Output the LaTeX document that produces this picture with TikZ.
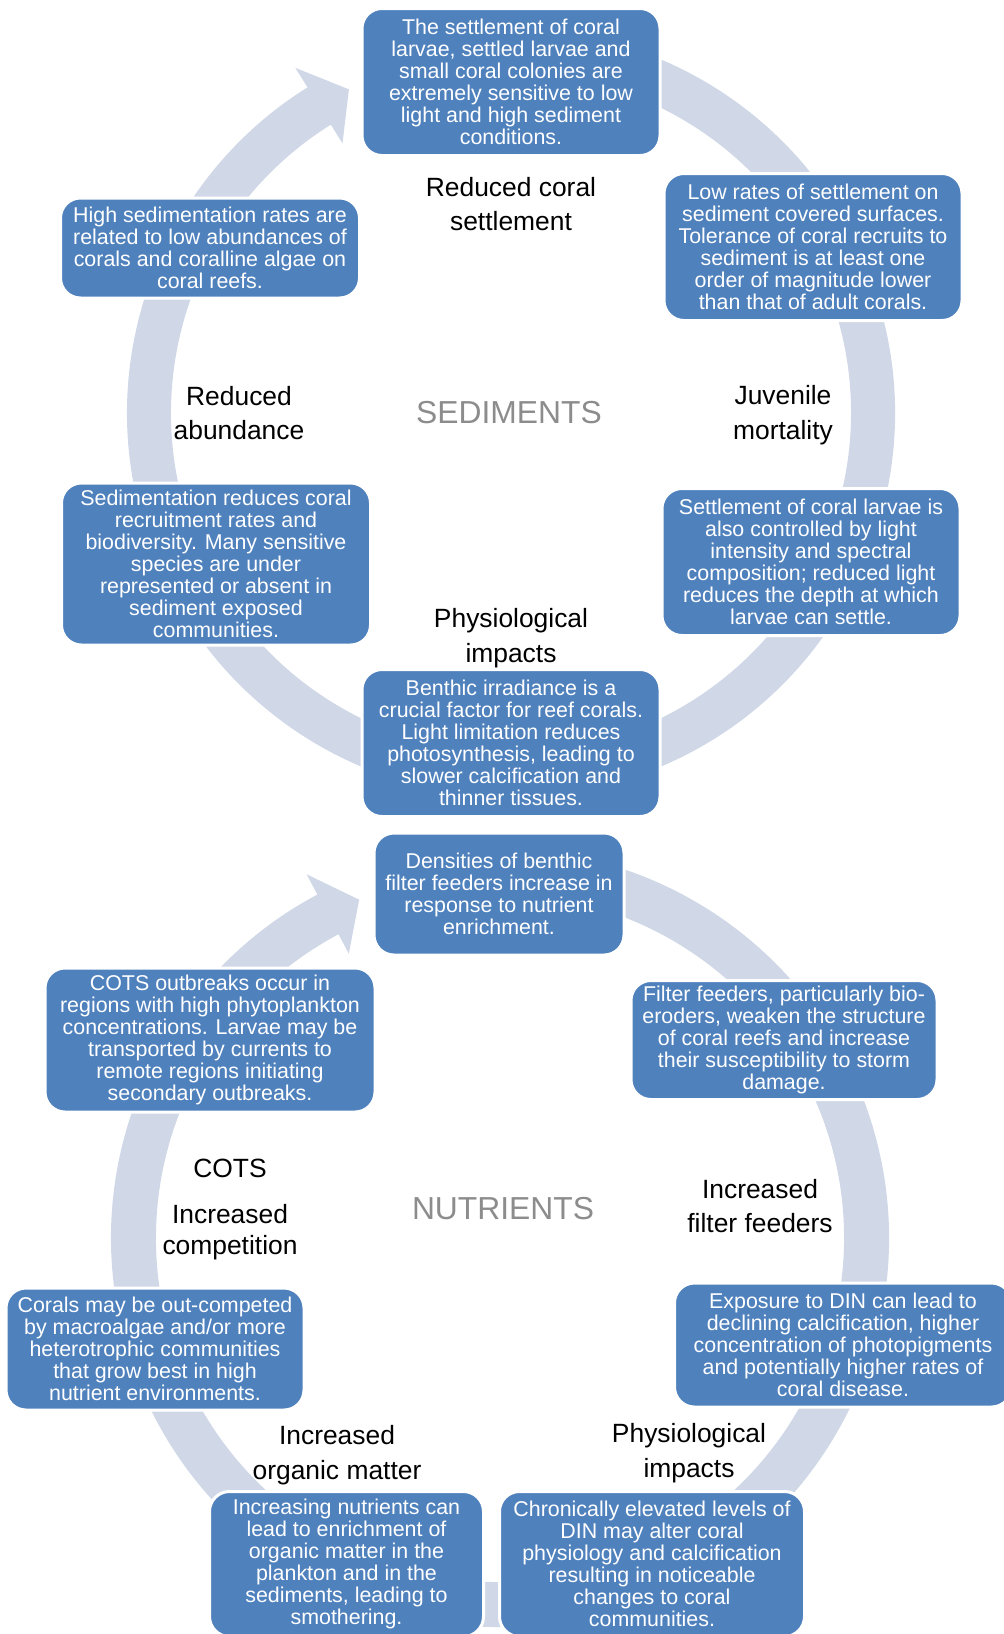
\documentclass[tikz,border=0pt]{standalone}
\usepackage{fontspec}
\setmainfont{Liberation Sans}
\usetikzlibrary{calc}
\definecolor{boxblue}{HTML}{4F81BD}
\definecolor{ringgray}{HTML}{D0D8E8}
\definecolor{titlegray}{HTML}{8C8C8C}
\tikzset{
	box/.style={fill=boxblue, draw=white, line width=1.5pt, rounded corners=10pt, text=white, align=center, inner sep=0pt, font=\fontsize{10.7}{11.05}\selectfont},
	lbl/.style={align=center, inner sep=0pt, font=\fontsize{13.2}{17.2}\selectfont},
	ttl/.style={text=titlegray, inner sep=0pt, font=\fontsize{15.9}{19}\selectfont}
}
\def\cyclering(#1)(#2:#3:#4:#5){\fill[ringgray] ($(#1)+(#2:#5)$) arc (#2:#3:#5) -- ($(#1)+(#3:{#5+23})$) -- ($(#1)+({#3-5.4}:{(#4+#5)/2})$) -- ($(#1)+(#3:{#4-22})$) -- ($(#1)+(#3:#4)$) arc (#3:#2:#4) -- cycle;}

\begin{document}
\begin{tikzpicture}[x=0.5pt, y=0.5pt]
			%%%%% START %%%%%
			\useasboundingbox (0, 0) rectangle (1003, -1634);
			
			\cyclering(511, -413)(108:-238:340:384)
			\cyclering(500, -1238)(105:-242:344:389)
			
			%%%%% SEDIMENTS %%%%%
			\node[box, minimum width=149pt, minimum height=73.5pt] (settle) at (511, -82) {The settlement of coral\\larvae, settled larvae and\\small coral colonies are\\extremely sensitive to low\\light and high sediment\\conditions.};
			\node[box, minimum width=149pt, minimum height=73.5pt] (lowrate) at (813, -247) {Low rates of settlement on\\sediment covered surfaces.\\Tolerance of coral recruits to\\sediment is at least one\\order of magnitude lower\\than that of adult corals.};
			\node[box, minimum width=149pt, minimum height=73.5pt] (light) at (811, -562) {Settlement of coral larvae is\\also controlled by light\\intensity and spectral\\composition; reduced light\\reduces the depth at which\\larvae can settle.};
			\node[box, minimum width=149pt, minimum height=73.5pt] (benthic) at (511, -743) {Benthic irradiance is a\\crucial factor for reef corals.\\Light limitation reduces\\photosynthesis, leading to\\slower calcification and\\thinner tissues.};
			\node[box, minimum width=154.5pt, minimum height=81pt] (recruit) at (216, -564) {Sedimentation reduces coral\\recruitment rates and\\biodiversity. Many sensitive\\species are under\\represented or absent in\\sediment exposed\\communities.};
			\node[box, minimum width=149.5pt, minimum height=50pt] (abund) at (210, -248) {High sedimentation rates are\\related to low abundances of\\corals and coralline algae on\\coral reefs.};
			
			\node[lbl] (settleL) at (511, -204) {Reduced coral\\settlement};
			\node[lbl] (juvL) at (783, -415) {Juvenile\\mortality};
			\node[lbl] (abundL) at (239, -413) {Reduced\\abundance};
			\node[lbl] (physL) at (511, -638) {Physiological\\impacts};
			\node[ttl] (sedT) at (509, -413) {SEDIMENTS};
			
			%%%%% NUTRIENTS %%%%%
			\node[box, minimum width=125pt, minimum height=61pt] (density) at (499, -894) {Densities of benthic\\filter feeders increase in\\response to nutrient\\enrichment.};
			\node[box, minimum width=153pt, minimum height=59.5pt] (filter) at (784, -1040) {Filter feeders, particularly bio-\\eroders, weaken the structure\\of coral reefs and increase\\their susceptibility to storm\\damage.};
			\node[box, minimum width=168.5pt, minimum height=62pt] (expose) at (843, -1345) {Exposure to DIN can lead to\\declining calcification, higher\\concentration of photopigments\\and potentially higher rates of\\coral disease.};
			\node[box, minimum width=152.5pt, minimum height=72.5pt] (chronic) at (652, -1564) {Chronically elevated levels of\\DIN may alter coral\\physiology and calcification\\resulting in noticeable\\changes to coral\\communities.};
			\node[box, minimum width=137pt, minimum height=72.5pt] (enrich) at (346.5, -1564) {Increasing nutrients can\\lead to enrichment of\\organic matter in the\\plankton and in the\\sediments, leading to\\smothering.};
			\node[box, minimum width=149pt, minimum height=61pt] (compete) at (155, -1349) {Corals may be out-competed\\by macroalgae and/or more\\heterotrophic communities\\that grow best in high\\nutrient environments.};
			\node[box, minimum width=165pt, minimum height=72pt] (cots) at (210, -1040) {COTS outbreaks occur in\\regions with high phytoplankton\\concentrations. Larvae may be\\transported by currents to\\remote regions initiating\\secondary outbreaks.};
			
			\node[lbl] (cotsL) at (230, -1168) {COTS};
			\node[lbl, font=\fontsize{13.2}{15.6}\selectfont] (compL) at (230, -1232) {Increased\\competition};
			\node[lbl] (filtL) at (760, -1206) {Increased\\filter feeders};
			\node[lbl] (orgL) at (337, -1455) {Increased\\organic matter};
			\node[lbl] (phys2L) at (689, -1453) {Physiological\\impacts};
			\node[ttl] (nutT) at (503, -1209) {NUTRIENTS};
			
			%%%%% END %%%%%
\end{tikzpicture}
\end{document}
